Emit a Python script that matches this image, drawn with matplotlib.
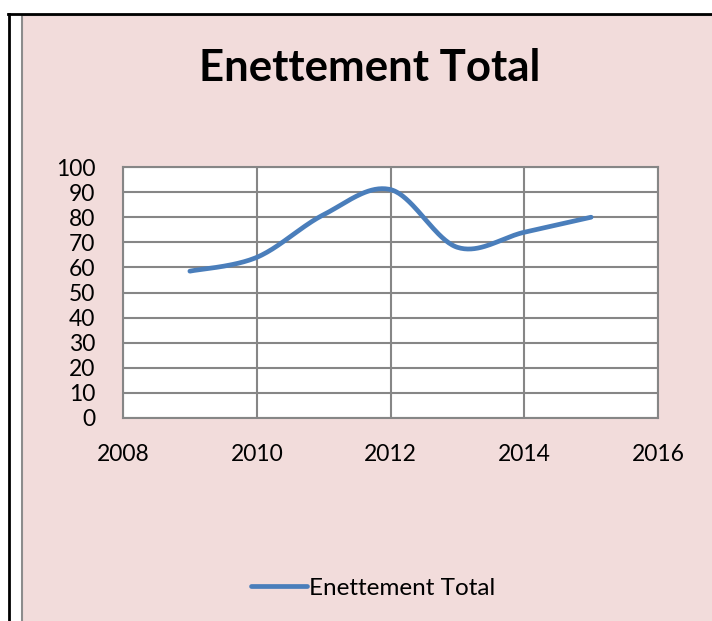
import numpy as np
import matplotlib.pyplot as plt
from matplotlib.lines import Line2D
from matplotlib.patches import Rectangle

years = [2009, 2010, 2011, 2012, 2013, 2014, 2015]
total = [58.5, 64, 81, 91, 68, 74, 80]
series_name = "Enettement Total"
xticks = [2008, 2010, 2012, 2014, 2016]
yticks = list(range(0, 101, 10))


def smooth_curve(x, y, steps=40):
    """Bezier smoothing like a spreadsheet 'smoothed line' (Catmull-Rom)."""
    x = np.asarray(x, float)
    y = np.asarray(y, float)
    n = len(x)
    xs, ys = [], []
    for i in range(n - 1):
        i0 = max(i - 1, 0)
        i3 = min(i + 2, n - 1)
        p0 = np.array([x[i], y[i]])
        p3 = np.array([x[i + 1], y[i + 1]])
        p1 = p0 + (np.array([x[i + 1], y[i + 1]]) - np.array([x[i0], y[i0]])) / 6
        p2 = p3 - (np.array([x[i3], y[i3]]) - np.array([x[i], y[i]])) / 6
        t = np.linspace(0, 1, steps)[:, None]
        pts = ((1 - t) ** 3) * p0 + 3 * ((1 - t) ** 2) * t * p1 + 3 * (1 - t) * t ** 2 * p2 + t ** 3 * p3
        xs.extend(pts[:, 0])
        ys.extend(pts[:, 1])
    return xs, ys


W, H = 712, 621
fig = plt.figure(figsize=(W / 100, H / 100), dpi=100)
fig.patch.set_facecolor("white")
plt.rcParams["font.family"] = ["Lato", "DejaVu Sans"]

# chart area background and frame
fig.add_artist(Rectangle((22 / W, -0.01), 1, 1.01 - 15 / H, transform=fig.transFigure,
                         facecolor="#F2DCDB", edgecolor="#8C8C8C", linewidth=1.5, zorder=-5))
fig.add_artist(Line2D([8.5 / W, 8.5 / W], [0, 1 - 14 / H], transform=fig.transFigure,
                      color="black", linewidth=2, zorder=-4))
fig.add_artist(Line2D([8 / W, 1], [1 - 14 / H, 1 - 14 / H], transform=fig.transFigure,
                      color="black", linewidth=2, zorder=-4))

left, right, top, bottom = 123, 658, 167, 418
ax = fig.add_axes([left / W, 1 - bottom / H, (right - left) / W, (bottom - top) / H])
ax.set_facecolor("white")

sx, sy = smooth_curve(years, total)
line, = ax.plot(sx, sy, color="#4A7EBB", linewidth=3.4, solid_capstyle="round",
                label=series_name)

ax.set_xlim(2008, 2016)
ax.set_ylim(0, 100)
ax.set_xticks(xticks)
ax.set_yticks(yticks)
ax.tick_params(length=0, labelsize=16.5, colors="black")
ax.tick_params(axis="x", pad=19)
ax.tick_params(axis="y", pad=20)
ax.grid(True, color="#868686", linewidth=1.5)
ax.set_axisbelow(True)
for s in ax.spines.values():
    s.set_color("#868686")
    s.set_linewidth(1.5)

fig.text(370 / W, 1 - 68 / H, series_name, ha="center", va="center",
         fontsize=31.5, fontweight="bold")

fig.legend(handles=[line], loc="center", bbox_to_anchor=(373 / W, 1 - 588 / H),
           frameon=False, fontsize=17.5, handlelength=2.3, handletextpad=0.1)

fig.savefig("out.png", dpi=100)
